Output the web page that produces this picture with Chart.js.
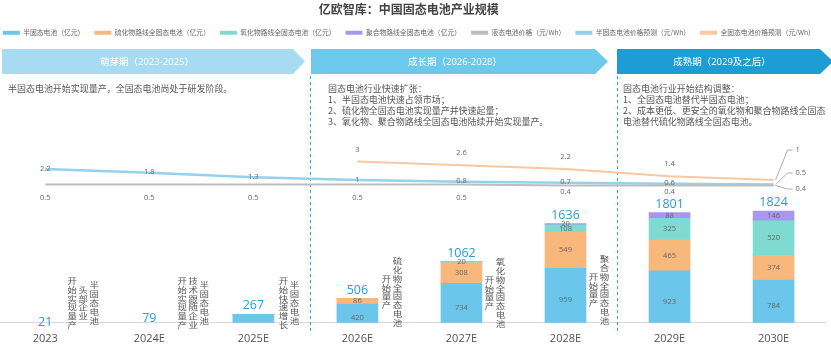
<!DOCTYPE html>
<html><head><meta charset="utf-8">
<script src="https://cdn.jsdelivr.net/npm/chart.js@4.4.1/dist/chart.umd.min.js"></script>
<style>
html,body{margin:0;padding:0;background:#fff;overflow:hidden;width:831px;height:359px;}
#wrap{position:absolute;left:-8px;top:0;width:839px;height:359px;}
</style></head><body>
<div id="wrap"><canvas id="c" width="839" height="359"></canvas></div>
<script>
// ---------- data ----------
const categories = ['2023','2024E','2025E','2026E','2027E','2028E','2029E','2030E'];
const semiSolid  = [21, 79, 267, 420, 734, 959, 923, 784];
const sulfide    = [0, 0, 0, 86, 308, 549, 465, 374];
const oxide      = [0, 0, 0, 0, 20, 108, 325, 520];
const polymer    = [0, 0, 0, 0, 0, 20, 88, 146];
const liquidPrice = [0.5, 0.5, 0.5, 0.5, 0.5, 0.4, 0.4, 0.4];
const semiPrice   = [2.2, 1.8, 1.3, 1, 0.8, 0.7, 0.6, 0.5];
const fullPrice   = [null, null, null, 3, 2.6, 2.2, 1.4, 1];
const seriesNames = ['半固态电池（亿元）','硫化物路线全固态电池（亿元）','氧化物路线全固态电池（亿元）','聚合物路线全固态电池（亿元）','液态电池价格（元/Wh）','半固态电池价格预测（元/Wh）','全固态电池价格预测（元/Wh）'];
const chartTitle = '亿欧智库：中国固态电池产业规模';
const phaseTitles = ['萌芽期（2023-2025）','成长期（2026-2028）','成熟期（2029及之后）'];
const phaseTexts = [
  ['半固态电池开始实现量产，全固态电池尚处于研发阶段。'],
  ['固态电池行业快速扩张：','1、半固态电池快速占领市场；','2、硫化物全固态电池实现量产并快速起量；','3、氧化物、聚合物路线全固态电池陆续开始实现量产。'],
  ['固态电池行业开始结构调整：','1、全固态电池替代半固态电池；','2、成本更低、更安全的氧化物和聚合物路线全固态','电池替代硫化物路线全固态电池。']
];
const noteCategory = [0, 1, 2, 3, 4, 5];
const noteTexts = [
  ['半固态电池','头部企业','开始实现量产'],
  ['半固态电池','技术跟随企业','开始实现量产'],
  ['半固态电池','开始快速增长'],
  ['硫化物全固态电池','开始量产'],
  ['氧化物全固态电池','开始量产'],
  ['聚合物全固态电池','开始量产']
];

// ---------- layout / style ----------
const F = "'Open Sans','Noto Sans CJK SC',sans-serif";
const FC = "'Noto Sans CJK SC','Open Sans',sans-serif";
const OFF = 8; // canvas shifted left by 8px
const px = x => x + OFF;
const BASE_Y = 332, BAR_PPU = 0.0663;   // bar axis: pixel of 0, px per unit
const PRICE_ZERO = 189.2, PRICE_PPU = 9.2;
const colors = ['#6cc5ea','#f8b87c','#7fdbd2','#a996ef','#bdbdbd','#93d2ee','#f8c8a0'];
const banners = [
  {x0:2,  x1:293, tip:305, tc:147, color:'#a6dbf2'},
  {x0:311,x1:595, tip:608, tc:455, color:'#6dc9ec'},
  {x0:617,x1:820, tip:833, tc:722, color:'#1e9dd5'}
];
const textX = [8, 328, 623];
const noteLeftOffset = [27, 33, 30, 29, 28, 28];
const noteCenterY = [303, 303, 303, 292, 293, 290];

function stretchText(ctx, t, x, y, sx){
  ctx.save(); ctx.translate(x, y); ctx.scale(sx, 1); ctx.fillText(t, 0, 0); ctx.restore();
}

const decor = {
  id:'decor',
  beforeDatasetsDraw(chart){
    const ctx = chart.ctx; ctx.save();
    banners.forEach((b,i)=>{
      ctx.fillStyle = b.color;
      ctx.beginPath();
      ctx.moveTo(px(b.x0),49); ctx.lineTo(px(b.x1),49); ctx.lineTo(px(b.tip),61.5);
      ctx.lineTo(px(b.x1),74); ctx.lineTo(px(b.x0),74); ctx.closePath(); ctx.fill();
      ctx.fillStyle = '#fff'; ctx.font = '9.5px '+F; ctx.textAlign='center'; ctx.textBaseline='middle';
      ctx.fillText(phaseTitles[i], px(b.tc), 62);
    });
    ctx.fillStyle = '#555'; ctx.font = '8.8px '+FC; ctx.textAlign='left'; ctx.textBaseline='middle';
    phaseTexts.forEach((lines,i)=>{
      lines.forEach((t,j)=> stretchText(ctx, t, px(textX[i]), 89 + j*11, 1.02));
    });
    ctx.strokeStyle = '#3a9fd8'; ctx.lineWidth = 1; ctx.setLineDash([3,3]);
    [310, 617].forEach(x=>{ ctx.beginPath(); ctx.moveTo(px(x)+0.5,76); ctx.lineTo(px(x)+0.5,331); ctx.stroke(); });
    ctx.restore();
  },
  afterDatasetsDraw(chart){
    const ctx = chart.ctx; ctx.save();
    const ys = chart.scales.y;
    const bars = [semiSolid, sulfide, oxide, polymer];
    ctx.textAlign='center'; ctx.textBaseline='middle';
    categories.forEach((c,i)=>{
      const nz = bars.filter(a=>a[i]>0).length;
      let total = 0; bars.forEach(a=> total += a[i]);
      const el0 = chart.getDatasetMeta(0).data[i];
      if (nz > 1) {
        ctx.fillStyle = '#666'; ctx.font = '7.5px '+F;
        bars.forEach((a,d)=>{
          if (a[i] > 0) {
            const el = chart.getDatasetMeta(d).data[i];
            ctx.fillText(String(a[i]), el.x, (el.y + el.base)/2);
          }
        });
      }
      ctx.fillStyle = '#2a9cd6'; ctx.font = '12.5px '+F;
      ctx.fillText(String(total), el0.x, ys.getPixelForValue(total) - 8.5);
    });
    // price labels
    ctx.font = '7.5px '+F; ctx.fillStyle = '#666';
    const last = categories.length - 1;
    const mLiq = chart.getDatasetMeta(4).data, mSemi = chart.getDatasetMeta(5).data, mFull = chart.getDatasetMeta(6).data;
    for (let i=0;i<last;i++){
      ctx.fillText(String(semiPrice[i]), mSemi[i].x, mSemi[i].y - 0.5);
      ctx.fillText(String(liquidPrice[i]), mLiq[i].x, mLiq[i].y + (liquidPrice[i] >= 0.5 ? 13 : 6));
      if (fullPrice[i] !== null) ctx.fillText(String(fullPrice[i]), mFull[i].x, mFull[i].y - 12);
    }
    // callouts for the last category
    const callouts = [
      {p:mFull[last], v:fullPrice[last], ty:150},
      {p:mSemi[last], v:semiPrice[last], ty:173},
      {p:mLiq[last],  v:liquidPrice[last], ty:189}
    ];
    ctx.strokeStyle = '#999'; ctx.lineWidth = 0.8; ctx.textAlign='left';
    callouts.forEach(c=>{
      ctx.beginPath(); ctx.moveTo(c.p.x+2, c.p.y); ctx.lineTo(c.p.x+14, c.ty); ctx.lineTo(c.p.x+19, c.ty); ctx.stroke();
      ctx.fillText(String(c.v), c.p.x + 22, c.ty);
    });
    // vertical notes (columns read right to left)
    ctx.fillStyle = '#555'; ctx.font = '8px '+FC; ctx.textAlign='center';
    noteTexts.forEach((cols,k)=>{
      const cx = mLiq[noteCategory[k]].x;
      const n = cols.length;
      cols.forEach((col,j)=>{
        const x = cx + noteLeftOffset[k] + (n-1-j)*11;
        const chars = Array.from(col);
        const h = (chars.length-1)*8.9;
        chars.forEach((ch,m)=> stretchText(ctx, ch, x, noteCenterY[k] - h/2 + m*8.9, 1.18));
      });
    });
    ctx.restore();
  }
};

const barDs = (label, data, color) => ({type:'bar', label, data, backgroundColor:color, borderColor:color, borderWidth:0, yAxisID:'y', stack:'s', barThickness:41});
const lineDs = (label, data, color, w) => ({type:'line', label, data, borderColor:color, backgroundColor:color, borderWidth:w, pointRadius:0, tension:0, fill:false, yAxisID:'y2'});

const chart = new Chart(document.getElementById('c'), {
  data:{
    labels: categories,
    datasets:[
      barDs(seriesNames[0], semiSolid, colors[0]),
      barDs(seriesNames[1], sulfide, colors[1]),
      barDs(seriesNames[2], oxide, colors[2]),
      barDs(seriesNames[3], polymer, colors[3]),
      lineDs(seriesNames[4], liquidPrice, colors[4], 2),
      lineDs(seriesNames[5], semiPrice, colors[5], 2.5),
      lineDs(seriesNames[6], fullPrice, colors[6], 2)
    ]
  },
  options:{
    responsive:false, animation:false, devicePixelRatio:1,
    layout:{padding:{left:0, right:5.4, top:0, bottom:5}},
    plugins:{
      title:{display:true, text:chartTitle, color:'#444', font:{size:12, weight:'bold', family:F}, padding:{top:3, bottom:2}},
      legend:{position:'top', labels:{boxWidth:17, boxHeight:4, padding:10, color:'#666', font:{size:6.8, family:FC},
        generateLabels(ch){
          const items = Chart.defaults.plugins.legend.labels.generateLabels(ch);
          items.forEach(it=>{ const c = colors[it.datasetIndex]; it.fillStyle=c; it.strokeStyle=c; it.lineWidth=0; });
          return items;
        }}},
      tooltip:{enabled:false}
    },
    scales:{
      x:{type:'category', offset:true, stacked:true, grid:{display:false, drawTicks:false}, border:{display:true, color:'#d9d9d9'},
         ticks:{color:'#555', font:{size:11, family:F}, padding:9, maxRotation:0, autoSkip:false}},
      y:{display:false, stacked:true, min:0, max:4300},
      y2:{display:false, min:-15.5, max:15.7}
    }
  },
  plugins:[decor]
});
const ca = chart.chartArea;
chart.options.scales.y.min = (BASE_Y - ca.bottom)/BAR_PPU;
chart.options.scales.y.max = (BASE_Y - ca.top)/BAR_PPU;
chart.options.scales.y2.min = (PRICE_ZERO - ca.bottom)/PRICE_PPU;
chart.options.scales.y2.max = (PRICE_ZERO - ca.top)/PRICE_PPU;
chart.update('none');
</script>
</body></html>
